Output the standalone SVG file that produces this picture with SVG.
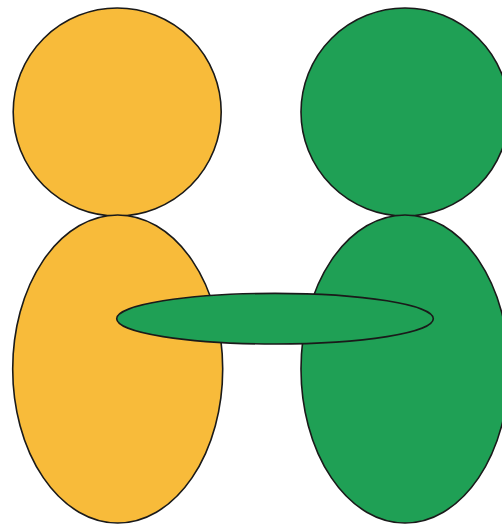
<svg xmlns="http://www.w3.org/2000/svg" width="502" height="524" viewBox="0 0 502 524">
<style>
.s{stroke:#1a1a1a;stroke-width:1.6}
.y{fill:#F8BB3A}
.g{fill:#1FA055}
</style>
<rect width="502" height="524" fill="#ffffff"/>
<g id="yellow-top"><circle class="s y" cx="117.2" cy="112" r="104"/></g>
<g id="green-top"><circle class="s g" cx="405" cy="112" r="104"/></g>
<g id="yellow-bottom"><ellipse class="s y" cx="117.7" cy="369" rx="105" ry="154"/></g>
<g id="green-bottom"><ellipse class="s g" cx="405" cy="369" rx="104" ry="154"/></g>
<g id="green-bar"><ellipse class="s g" cx="275" cy="318.7" rx="158.3" ry="25.3"/></g>
</svg>
